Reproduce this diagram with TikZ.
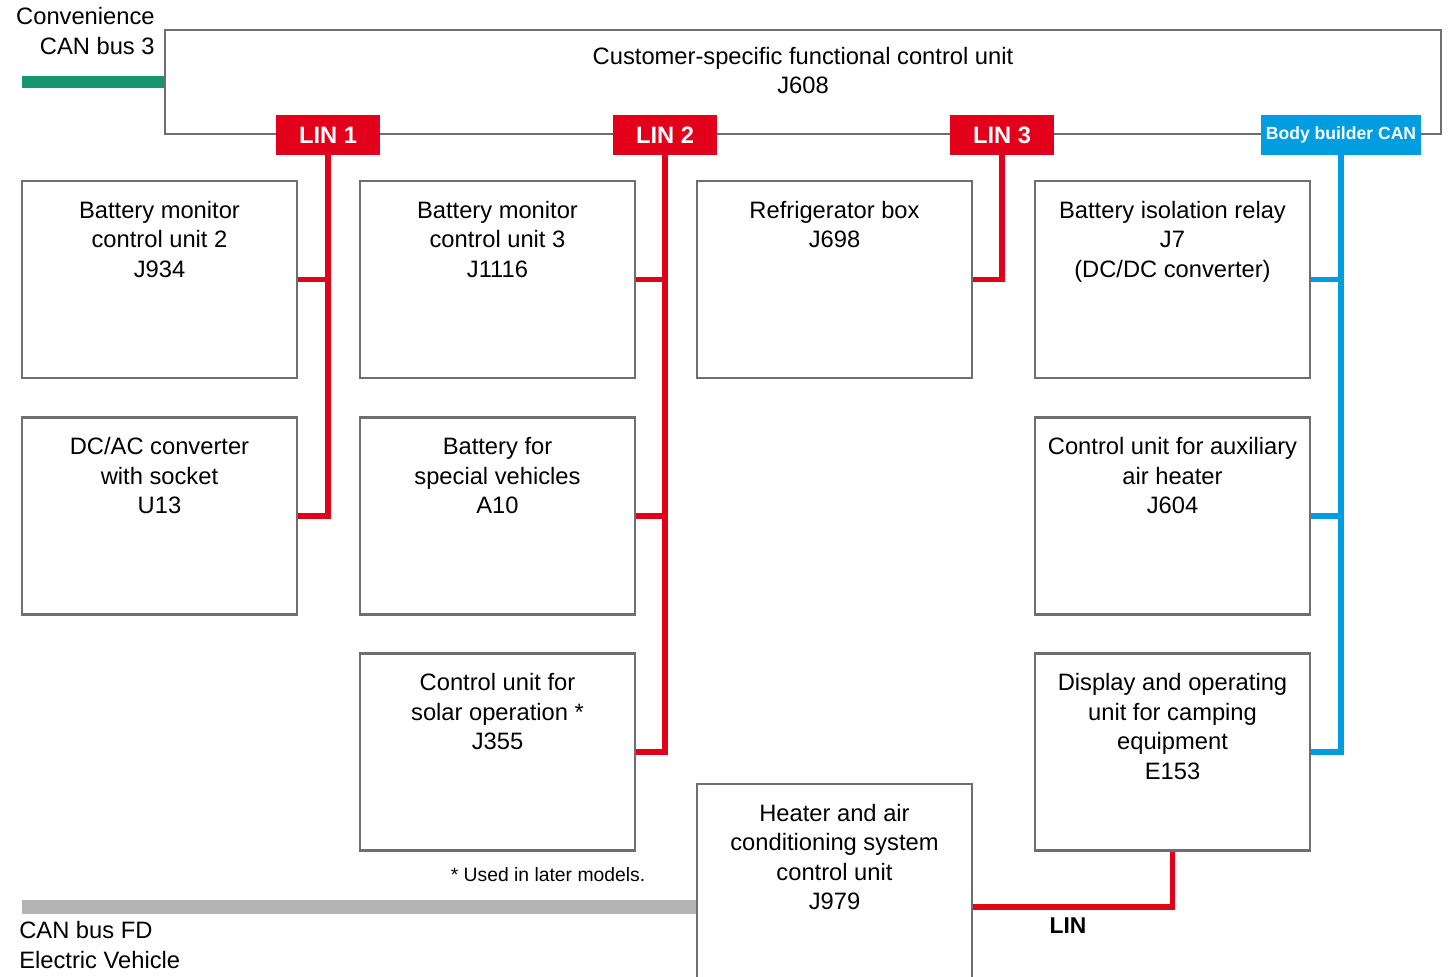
\documentclass[tikz,border=0pt]{standalone}
\usepackage{fontspec}
\setmainfont{Liberation Sans}

\definecolor{linred}{RGB}{226,0,26}
\definecolor{canblue}{RGB}{0,158,224}
\definecolor{convgreen}{RGB}{22,150,110}
\definecolor{fdgray}{RGB}{180,180,180}
\definecolor{boxgray}{RGB}{110,110,110}

\begin{document}
\begin{tikzpicture}[x=0.02cm, y=-0.02cm, font=\fontsize{13.5}{16.8}\selectfont,
  unit/.style={draw=boxgray, line width=1.4pt, minimum width=5.5cm, minimum height=3.94cm, inner sep=0pt},
  utext/.style={anchor=north, yshift=-8.6pt, align=center},
  linlabel/.style={fill=linred, text=white, font=\fontsize{13.5}{16}\selectfont\bfseries, minimum width=2.08cm, minimum height=0.8cm, inner sep=0pt},
  canlabel/.style={fill=canblue, text=white, font=\fontsize{10}{12}\selectfont\bfseries, minimum width=3.2cm, minimum height=0.8cm, inner sep=0pt},
  linbus/.style={draw=linred, line width=3pt},
  canbus/.style={draw=canblue, line width=3pt}]
\useasboundingbox (0,0) rectangle (1448,977);

% central unit
\node [unit, minimum width=25.52cm, minimum height=2.08cm,
  label={[anchor=north, yshift=-7pt, align=center]north:Customer-specific functional control unit\\J608}] (j608) at (803,82) {};

% connected units
\node [unit, label={[utext]north:Battery monitor\\control unit 2\\J934}] (j934) at (159.5,279.5) {};
\node [unit, label={[utext]north:DC/AC converter\\with socket\\U13}] (u13) at (159.5,516) {};
\node [unit, label={[utext]north:Battery monitor\\control unit 3\\J1116}] (j1116) at (497.5,279.5) {};
\node [unit, label={[utext]north:Battery for\\special vehicles\\A10}] (a10) at (497.5,516) {};
\node [unit, label={[utext]north:Control unit for\\solar operation *\\J355}] (j355) at (497.5,752) {};
\node [unit, label={[utext]north:Refrigerator box\\J698}] (j698) at (834.5,279.5) {};
\node [unit, label={[utext]north:Battery isolation relay\\J7\\(DC/DC converter)}] (j7) at (1172.5,279.5) {};
\node [unit, label={[utext]north:Control unit for auxiliary\\air heater\\J604}] (j604) at (1172.5,516) {};
\node [unit, label={[utext]north:Display and operating\\unit for camping\\equipment\\E153}] (e153) at (1172.5,752) {};
\node [unit, minimum height=4.92cm, label={[utext]north:Heater and air\\conditioning system\\control unit\\J979}] (j979) at (834.5,907) {};

% bus labels
\node [linlabel] (lin1) at (328,135) {LIN 1};
\node [linlabel] (lin2) at (665,135) {LIN 2};
\node [linlabel] (lin3) at (1002,135) {LIN 3};
\node [canlabel] (bbcan) at (1341,135) {Body builder CAN};

% LIN lines
\draw[linbus] (lin1.south) |- (u13.east);
\draw[linbus] (lin1.south |- j934.east) -- (j934.east);
\draw[linbus] (lin2.south) |- (j355.east);
\draw[linbus] (lin2.south |- j1116.east) -- (j1116.east);
\draw[linbus] (lin2.south |- a10.east) -- (a10.east);
\draw[linbus] (lin3.south) |- (j698.east);
\draw[linbus] (j979.east) -| (e153.south);

% body builder CAN
\draw[canbus] (bbcan.south) |- (e153.east);
\draw[canbus] (bbcan.south |- j7.east) -- (j7.east);
\draw[canbus] (bbcan.south |- j604.east) -- (j604.east);

% outer buses
\coordinate (convend) at (22,82);
\coordinate (fdend) at (22,907);
\draw[convgreen, line width=7pt] (convend) -- (j608.west);
\draw[fdgray, line width=8pt] (fdend) -- (j979.west);

% texts
\node [anchor=north east, align=right, inner sep=0pt] (convtext) at (155,7) {Convenience\\CAN bus 3};
\node [anchor=north west, align=left, inner sep=0pt] (fdtext) at (19,921) {CAN bus FD\\Electric Vehicle};
\node [font=\fontsize{11}{13}\selectfont] (note) at (548,875) {* Used in later models.};
\node [font=\fontsize{13}{15}\selectfont\bfseries] (lintext) at (1068,926) {LIN};
\end{tikzpicture}
\end{document}
